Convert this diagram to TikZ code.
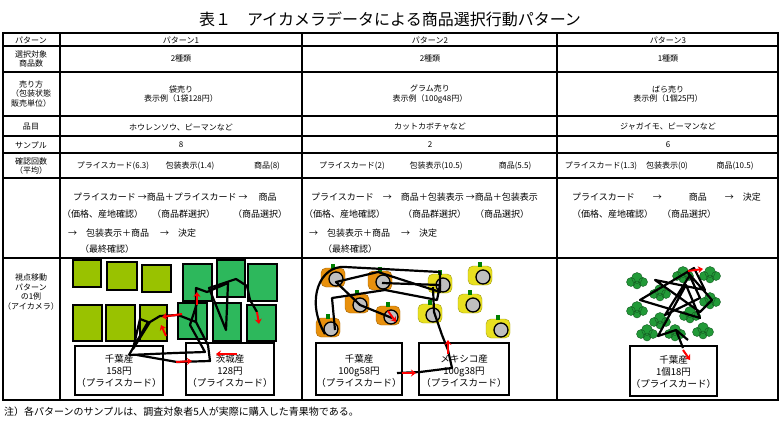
\documentclass[tikz,border=0pt]{standalone}
\usepackage{fontspec}
\setmainfont{Noto Sans CJK JP}
\usetikzlibrary{arrows.meta}
\begin{document}
\begin{tikzpicture}[x=1pt,y=-1pt,
  t/.style={font=\fontsize{8}{9.5}\selectfont,inner sep=0pt,align=center},
  tl/.style={font=\fontsize{9}{10}\selectfont,inner sep=0pt,anchor=west},
  bt/.style={font=\fontsize{9.5}{12}\selectfont,inner sep=0pt,align=center,anchor=north},
  grid/.style={line width=1.3pt},
  lg/.style={draw=black,line width=1.3pt,fill=lgreen},
  dg/.style={draw=black,line width=1.3pt,fill=dgreen},
  lbl/.style={draw=black,line width=1.3pt,fill=white},
  gaze/.style={line width=2.2pt,line join=round},
  rarr/.style={red,line width=2pt,-{Stealth[length=5pt,width=7pt]}}]
\definecolor{lgreen}{HTML}{99C200}
\definecolor{dgreen}{HTML}{2DB85C}
\definecolor{pumpo}{HTML}{E8900C}
\definecolor{pumpy}{HTML}{E8E020}
\definecolor{broc}{HTML}{229A38}
\useasboundingbox (0,0) rectangle (781,436);
\node[font=\fontsize{16}{18}\selectfont] (title) at (390,19) {表１　アイカメラデータによる商品選択行動パターン};
% grid
\draw[line width=2pt] (3,33) rectangle (778,400);
\foreach \y in {46,72,116,136,153,178,258} \draw[grid] (3,\y) -- (778,\y);
\foreach \x in {60,302,557} \draw[grid] (\x,33) -- (\x,400);
% first column
\node[t] (h0) at (31,40) {パターン};
\node[t] (h1) at (31,59) {選択対象\\商品数};
\node[t] (h2) at (31,94) {売り方\\（包装状態\\販売単位）};
\node[t] (h3) at (31,127) {品目};
\node[t] (h4) at (31,145) {サンプル};
\node[t] (h5) at (31,166) {確認回数\\（平均）};
\node[t] (h6) at (31,292) {視点移動\\パターン\\の1例\\（アイカメラ）};
% pattern headers
\node[t] (p1) at (181,40) {パターン1};
\node[t] (p2) at (430,40) {パターン2};
\node[t] (p3) at (668,40) {パターン3};
\node[t] (a1) at (181,59) {2種類};
\node[t] (a2) at (430,59) {2種類};
\node[t] (a3) at (668,59) {1種類};
\node[t] (b1) at (181,94) {袋売り\\表示例（1袋128円）};
\node[t] (b2) at (430,94) {グラム売り\\表示例（100g48円）};
\node[t] (b3) at (668,94) {ばら売り\\表示例（1個25円）};
\node[t] (c1) at (181,127) {ホウレンソウ、ピーマンなど};
\node[t] (c2) at (430,127) {カットカボチャなど};
\node[t] (c3) at (668,127) {ジャガイモ、ピーマンなど};
\node[t] (d1) at (181,145) {8};
\node[t] (d2) at (430,145) {2};
\node[t] (d3) at (668,145) {6};
\node[t] (e11) at (113,166) {プライスカード(6.3)};
\node[t] (e12) at (190,166) {包装表示(1.4)};
\node[t] (e13) at (267,166) {商品(8)};
\node[t] (e21) at (352,166) {プライスカード(2)};
\node[t] (e22) at (436,166) {包装表示(10.5)};
\node[t] (e23) at (515,166) {商品(5.5)};
\node[t] (e31) at (601,166) {プライスカード(1.3)};
\node[t] (e32) at (667,166) {包装表示(0)};
\node[t] (e33) at (735,166) {商品(10.5)};
% process row pattern1
\node[tl] (f1a) at (73,197) {プライスカード →商品＋プライスカード →　 商品};
\node[tl] (f1b) at (62,214) {（価格、産地確認）　（商品群選択）　　（商品選択）};
\node[tl] (f1c) at (68,233) {→　包装表示＋商品　 →　決定};
\node[tl] (f1d) at (80,249) {（最終確認）};
% pattern2
\node[tl] (f2a) at (311,197) {プライスカード　→　商品＋包装表示 →商品＋包装表示};
\node[tl] (f2b) at (304,214) {（価格、産地確認）　　（商品群選択）　（商品選択）};
\node[tl] (f2c) at (309,233) {→　包装表示＋商品　 →　決定};
\node[tl] (f2d) at (323,249) {（最終確認）};
% pattern3
\node[tl] (f3a) at (572,197) {プライスカード　　→　　　商品　　→　決定};
\node[tl] (f3b) at (572,214) {（価格、産地確認）　（商品選択）};
% pattern1 picture
\draw[lg] (73,260) rectangle (101,287);
\draw[lg] (107,262) rectangle (137,290);
\draw[lg] (142,265) rectangle (171,292);
\draw[lg] (73,305) rectangle (102,341);
\draw[lg] (106,305) rectangle (135,341);
\draw[lg] (140,305) rectangle (167,341);
\draw[dg] (183,264) rectangle (212,301);
\draw[dg] (217,260) rectangle (245,297);
\draw[dg] (248,264) rectangle (277,301);
\draw[dg] (178,303) rectangle (207,339);
\draw[dg] (213,303) rectangle (241,341);
\draw[dg] (247,305) rectangle (276,341);
\draw[lbl] (75,346) rectangle (163,395);
\node[bt] (l1) at (119,354) {千葉産\\158円\\（プライスカード）};
\draw[lbl] (186,343) rectangle (274,395);
\node[bt] (l2) at (230,354) {茨城産\\128円\\（プライスカード）};
\draw[gaze] (129,355) -- (148,322) -- (140,319) -- (133,349) -- (150,322) -- (160,316) -- (178,315) -- (196,322) -- (196,288) -- (207,292) -- (228,283) -- (226,330) -- (209,288) -- (236,279) -- (247,286) -- (250,300) -- (257,312);
\draw[gaze] (129,355) -- (175,353) -- (205,352) -- (190,325) -- (198,300);
\draw[gaze] (137,355) -- (177,362) -- (210,361) -- (208,345) -- (196,322);
\draw[rarr] (182,314) -- (162,317);
\draw[rarr] (166,336) -- (161,325);
\draw[rarr] (197,305) -- (197,292);
\draw[rarr] (257,312) -- (259,324);
\draw[rarr] (237,354) -- (216,354);
\draw[rarr] (176,362) -- (192,361);
% pattern2 picture
\foreach \px/\py/\c in {333/277/pumpo,380/280/pumpo,357/303/pumpo,388/315/pumpo,328/327/pumpo,440/283/pumpy,480/275/pumpy,430/313/pumpy,470/303/pumpy,498/328/pumpy}{
  \fill[\c,draw=\c!70!black,rounded corners=5pt] (\px-12,\py-9) rectangle (\px+12,\py+10);
  \fill[green!50!black] (\px-2,\py-13) rectangle (\px+2,\py-8);
  \draw[fill=gray!50,line width=1.3pt] (\px+3,\py+2) circle (7);
}
\draw[lbl] (316,343) rectangle (402,395);
\node[bt] (l3) at (359,354) {千葉産\\100g58円\\（プライスカード）};
\draw[lbl] (419,343) rectangle (509,395);
\node[bt] (l4) at (464,354) {メキシコ産\\100g38円\\（プライスカード）};
\draw[gaze] (325,334) .. controls (305,300) and (320,265) .. (345,267) -- (440,272) -- (440,292) -- (378,272) -- (336,282) -- (360,305) -- (392,318);
\draw[gaze] (382,283) -- (440,285) -- (437,300) -- (385,290) -- (332,298) -- (335,330);
\draw[gaze] (433,287) -- (434,312) -- (442,335);
\draw[rarr] (388,311) -- (396,322);
\draw[gaze] (442,335) -- (448,350) -- (452,368) -- (420,372) -- (397,373);
\draw[rarr] (448,354) -- (448,340);
\draw[rarr] (402,373) -- (416,373);
% pattern3 picture
\foreach \bx/\by in {637/278,660/290,683/272,710/272,637/307,660/318,690/312,710/298,647/330,675/330,703/328}{
  \fill[broc,draw=broc!60!black] (\bx,\by) circle (5.5) (\bx-6,\by+4) circle (4.5) (\bx+6,\by+4) circle (4.5) (\bx,\by+7) circle (4);
}
\draw[lbl] (630,346) rectangle (717,396);
\node[bt] (l5) at (673.5,355) {千葉産\\1個18円\\（プライスカード）};
\draw[gaze] (688,340) -- (676,330) -- (658,336) -- (686,285) -- (700,318) -- (640,300) -- (694,268) -- (705,290) -- (655,280) -- (700,312) -- (712,300) -- (690,275) -- (665,315) -- (700,298) -- (688,272);
\draw[gaze] (676,330) -- (683,348);
\draw[rarr] (688,271) -- (703,269);
\draw[rarr] (683,350) -- (690,360);
\node[anchor=west,inner sep=0pt,font=\fontsize{10}{12}\selectfont] (note) at (4,412) {注）各パターンのサンプルは、調査対象者5人が実際に購入した青果物である。};
\end{tikzpicture}
\end{document}
